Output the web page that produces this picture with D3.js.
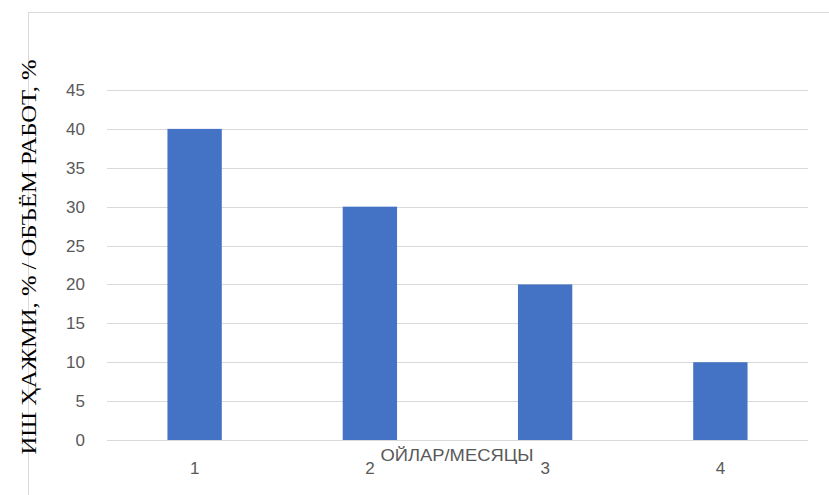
<!DOCTYPE html>
<html><head><meta charset="utf-8">
<script src="https://cdn.jsdelivr.net/npm/d3@7"></script>
<style>body{margin:0;background:#fff;}svg{display:block;}</style>
</head><body>
<svg id="c" width="829" height="495"></svg>
<script>
const categories = ["1","2","3","4"];
const values = [40, 30, 20, 10];
const yTicks = [0,5,10,15,20,25,30,35,40,45];
const yTitle = "ИШ ҲАЖМИ, % / ОБЪЁМ РАБОТ, %";
const xTitle = "ОЙЛАР/МЕСЯЦЫ";

const svg = d3.select("#c");
svg.append("rect").attr("x",28.5).attr("y",12.5).attr("width",900).attr("height",600)
  .attr("fill","none").attr("stroke","#d9d9d9").attr("stroke-width",1);

const x = d3.scaleBand().domain(categories).range([107,808]).paddingInner(0.69).paddingOuter(0.345);
const y = d3.scaleLinear().domain([0,45]).range([440,90]);

const grid = svg.append("g");
grid.selectAll("line").data(yTicks).join("line")
  .attr("x1",107).attr("x2",808)
  .attr("y1",d=>Math.round(y(d))+0.5).attr("y2",d=>Math.round(y(d))+0.5)
  .attr("stroke","#d9d9d9").attr("stroke-width",1);

svg.append("g").selectAll("rect").data(values).join("rect")
  .attr("x",(d,i)=>x(categories[i])).attr("width",x.bandwidth())
  .attr("y",d=>y(d)).attr("height",d=>y(0)-y(d))
  .attr("fill","#4472C4");

const yAxis = svg.append("g").attr("transform","translate(107,0)")
  .call(d3.axisLeft(y).tickValues(yTicks).tickSize(0).tickPadding(22));
yAxis.select(".domain").remove();
yAxis.selectAll("text").attr("fill","#595959").attr("font-family","'Liberation Sans', Arial, sans-serif").attr("font-size","17px");

const xAxis = svg.append("g").attr("transform","translate(0,440)")
  .call(d3.axisBottom(x).tickSize(0).tickPadding(22));
xAxis.select(".domain").remove();
xAxis.selectAll("text").attr("fill","#595959").attr("font-family","'Liberation Sans', Arial, sans-serif").attr("font-size","17px");

svg.append("text").attr("x",457).attr("y",461).attr("text-anchor","middle")
  .attr("fill","#595959").attr("font-family","'Liberation Sans', Arial, sans-serif").attr("font-size","16px")
  .attr("textLength",153).attr("lengthAdjust","spacingAndGlyphs")
  .text(xTitle);

svg.append("text").attr("transform","translate(36,257) rotate(-90)").attr("text-anchor","middle")
  .attr("fill","#000").attr("font-family","'Liberation Serif', 'Times New Roman', serif").attr("font-size","22px")
  .attr("textLength",395).attr("lengthAdjust","spacingAndGlyphs")
  .text(yTitle);
</script>
</body></html>
